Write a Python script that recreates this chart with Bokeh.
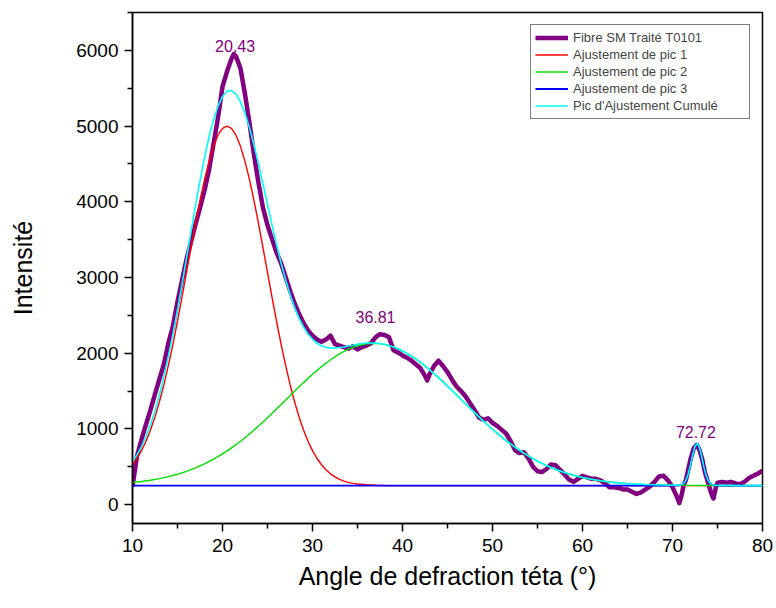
from bokeh.plotting import figure
from bokeh.models import Range1d, FixedTicker, Legend, LegendItem, ColumnDataSource
from bokeh.core.properties import value
from bokeh.embed import file_html
from bokeh.resources import INLINE

# ---- data ----
raw_x = [10.0, 10.5, 11.0, 11.5, 12.0, 12.5, 13.0, 13.5, 14.0, 14.5,
         15.0, 15.5, 16.0, 16.5, 17.0, 17.5, 18.0, 18.5, 19.0, 19.5,
         20.0, 20.5, 21.0, 21.25, 21.5, 22.0, 22.5, 23.0, 23.5, 24.0,
         24.5, 25.0, 25.5, 26.0, 26.5, 27.0, 27.5, 28.0, 28.5, 29.0,
         29.5, 30.0, 30.5, 31.0, 31.5, 32.0, 32.5, 33.0, 33.5, 34.0,
         34.5, 35.0, 35.5, 36.0, 36.5, 37.0, 37.5, 38.0, 38.5, 39.0,
         39.5, 40.0, 40.5, 41.0, 41.5, 42.0, 42.5, 42.75, 43.0, 43.5,
         44.0, 44.5, 45.0, 45.5, 46.0, 46.5, 47.0, 47.5, 48.0, 48.5,
         49.0, 49.5, 50.0, 50.5, 51.0, 51.5, 52.0, 52.5, 53.0, 53.5,
         54.0, 54.5, 55.0, 55.5, 56.0, 56.5, 57.0, 57.5, 58.0, 58.5,
         59.0, 59.5, 60.0, 60.5, 61.0, 61.5, 62.0, 62.5, 63.0, 63.5,
         64.0, 64.5, 65.0, 65.5, 66.0, 66.5, 67.0, 67.5, 68.0, 68.5,
         69.0, 69.5, 70.0, 70.5, 70.75, 71.0, 71.25, 71.5, 72.0, 72.35,
         72.7, 73.0, 73.3, 73.6, 74.0, 74.3, 74.55, 74.8, 75.0, 75.5,
         76.0, 76.5, 77.0, 77.5, 78.0, 78.5, 79.0, 79.5, 80.0]
raw_y = [240, 640, 860, 1060, 1250, 1460, 1660, 1860, 2140, 2360,
         2680, 2960, 3240, 3470, 3700, 3920, 4150, 4420, 4760, 5110,
         5520, 5720, 5890, 5950, 5920, 5760, 5420, 5040, 4620, 4250,
         3920, 3690, 3510, 3330, 3190, 3010, 2830, 2660, 2520, 2400,
         2300, 2230, 2180, 2150, 2180, 2230, 2120, 2100, 2080, 2060,
         2090, 2050, 2080, 2100, 2130, 2210, 2250, 2240, 2210, 2040,
         2010, 1970, 1940, 1900, 1850, 1800, 1700, 1640, 1720, 1830,
         1900, 1830, 1750, 1650, 1560, 1500, 1430, 1340, 1250, 1150,
         1120, 1140, 1080, 1040, 990, 940, 840, 720, 680, 690,
         610, 500, 440, 430, 470, 530, 520, 460, 400, 330,
         300, 340, 380, 360, 340, 340, 320, 280, 230, 230,
         220, 200, 200, 170, 140, 160, 200, 240, 300, 370,
         380, 320, 230, 100, 20, 120, 260, 330, 600, 740,
         790, 720, 600, 430, 270, 150, 80, 220, 290, 300,
         290, 300, 280, 270, 300, 350, 380, 410, 450]

pic1_x = [10 + 0.5 * i for i in range(51)] + [36, 37, 38, 40, 80]
pic1_y = [526, 609, 712, 836, 985, 1160, 1361, 1590, 1846, 2124, 2425,
          2740, 3066, 3392, 3713, 4015, 4293, 4534, 4732, 4879, 4970, 5000,
          4970, 4879, 4732, 4534, 4293, 4015, 3713, 3392, 3066, 2740, 2425,
          2124, 1846, 1590, 1361, 1160, 985, 836, 712, 609, 526, 459, 406,
          365, 334, 310, 293, 280, 271,
          261, 255, 252, 250, 250]

pic2_x = list(range(10, 81))
pic2_y = [291, 305, 322, 343, 369, 400, 439, 484, 537, 599,
          669, 749, 837, 933, 1037, 1147, 1261, 1379, 1496, 1611,
          1721, 1822, 1913, 1991, 2053, 2098, 2124, 2130, 2116, 2082,
          2030, 1962, 1878, 1783, 1677, 1565, 1449, 1332, 1215, 1102,
          995, 894, 801, 716, 640, 573, 515, 465, 423, 387,
          358, 334, 314, 299, 287, 277, 270, 265, 261, 258,
          255, 254, 253, 252, 252, 251, 251, 251, 250, 250, 250]

pic3_x = [10, 70, 70.75, 71, 71.25, 71.5, 71.75, 72, 72.25, 72.5, 72.75,
          73, 73.25, 73.5, 73.75, 74, 74.25, 74.5, 75, 80]
pic3_y = [250, 250, 253, 259, 278, 320, 401, 521, 659, 770, 806,
          749, 626, 489, 377, 307, 272, 257, 250, 250]

cum_x = ([10 + 0.5 * i for i in range(51)] + list(range(36, 71)) +
         [70.75, 71, 71.25, 71.5, 71.75, 72, 72.25, 72.5, 72.75, 73, 73.25,
          73.5, 73.75, 74, 74.25, 74.5] + [75, 76, 77, 78, 79, 80])
cum_y = [567, 657, 767, 899, 1057, 1242, 1454, 1696, 1965, 2258, 2575,
         2909, 3255, 3603, 3947, 4275, 4580, 4852, 5081, 5263, 5389, 5459,
         5469, 5422, 5319, 5169, 4976, 4750, 4500, 4234, 3963, 3694, 3436,
         3194, 2975, 2777, 2607, 2463, 2346, 2252, 2183, 2130, 2098, 2076,
         2069, 2067, 2075, 2082, 2096, 2105, 2119,
         2135, 2135, 2118, 2082, 2030, 1962, 1878, 1783, 1677, 1565, 1449,
         1332, 1215, 1102, 995, 894, 801, 716, 640, 573, 515, 465, 423, 387,
         358, 334, 314, 299, 287, 277, 270, 265, 261, 258, 255,
         257, 263, 282, 324, 404, 524, 662, 772, 808, 751, 628, 491, 379,
         308, 273, 258,
         251, 251, 250, 250, 250, 250]

peak_labels = ["20.43", "36.81", "72.72"]
peak_label_x = [21.4, 37.0, 72.6]
peak_label_y = [6060, 2480, 965]

series_names = ["Fibre SM Traité T0101", "Ajustement de pic 1",
                "Ajustement de pic 2", "Ajustement de pic 3",
                "Pic d'Ajustement Cumulé"]

x_ticks = [10, 20, 30, 40, 50, 60, 70, 80]
x_minor = [15, 25, 35, 45, 55, 65, 75]
y_ticks = [0, 1000, 2000, 3000, 4000, 5000, 6000]
y_minor = [500, 1500, 2500, 3500, 4500, 5500, 6500]

FONT = "Liberation Sans"
PURPLE = "#800080"

p = figure(width=776, height=608, output_backend="svg", toolbar_location=None,
           x_range=Range1d(10, 80), y_range=Range1d(-250, 6500),
           min_border_left=132, min_border_right=14, min_border_top=12,
           min_border_bottom=85)
p.background_fill_color = "white"
p.border_fill_color = "white"
p.outline_line_color = "black"
p.outline_line_width = 1.5
p.xgrid.visible = False
p.ygrid.visible = False

r_raw = p.line(raw_x, raw_y, line_color=PURPLE, line_width=4.5, line_join="round")
r1 = p.line(pic1_x, pic1_y, line_color="#ff0000", line_width=1.4)
r2 = p.line(pic2_x, pic2_y, line_color="#00e000", line_width=1.4)
r3 = p.line(pic3_x, pic3_y, line_color="#0000ff", line_width=1.8)
r4 = p.line(cum_x, cum_y, line_color="#00ffff", line_width=1.6)

src = ColumnDataSource(dict(x=peak_label_x, y=peak_label_y, t=peak_labels))
p.text(x="x", y="y", text="t", source=src, text_color=PURPLE,
       text_font=value(FONT), text_font_size="16px",
       text_align="center", text_baseline="middle")

for ax, ticks, minor in ((p.xaxis[0], x_ticks, x_minor), (p.yaxis[0], y_ticks, y_minor)):
    ax.ticker = FixedTicker(ticks=ticks, minor_ticks=minor)
    ax.axis_line_width = 1.5
    ax.major_tick_line_width = 1.5
    ax.minor_tick_line_width = 1.5
    ax.major_tick_out = 8
    ax.major_tick_in = 0
    ax.minor_tick_out = 5
    ax.minor_tick_in = 0
    ax.major_label_text_font = FONT
    ax.major_label_text_font_size = "19px"
    ax.major_label_text_color = "black"
    ax.axis_label_text_font = FONT
    ax.axis_label_text_font_size = "25px"
    ax.axis_label_text_font_style = "normal"
    ax.axis_label_text_color = "black"

p.xaxis.axis_label = "Angle de defraction téta (°)"
p.yaxis.axis_label = "Intensité"
p.xaxis.major_label_standoff = 7
p.xaxis.axis_label_standoff = 7
p.yaxis.major_label_standoff = 6
p.yaxis.axis_label_standoff = 36

legend = Legend(items=[LegendItem(label=series_names[0], renderers=[r_raw]),
                       LegendItem(label=series_names[1], renderers=[r1]),
                       LegendItem(label=series_names[2], renderers=[r2]),
                       LegendItem(label=series_names[3], renderers=[r3]),
                       LegendItem(label=series_names[4], renderers=[r4])],
                location="top_right")
legend.margin = 12
legend.padding = 4
legend.spacing = 0
legend.glyph_height = 17
legend.glyph_width = 33
legend.label_height = 17
legend.label_standoff = 5
legend.label_width = 172
legend.label_text_font = FONT
legend.label_text_font_size = "13px"
legend.border_line_color = "black"
legend.border_line_width = 1
legend.background_fill_color = "white"
legend.background_fill_alpha = 1.0
p.add_layout(legend)

open("out.html", "w").write(file_html(p, INLINE))
